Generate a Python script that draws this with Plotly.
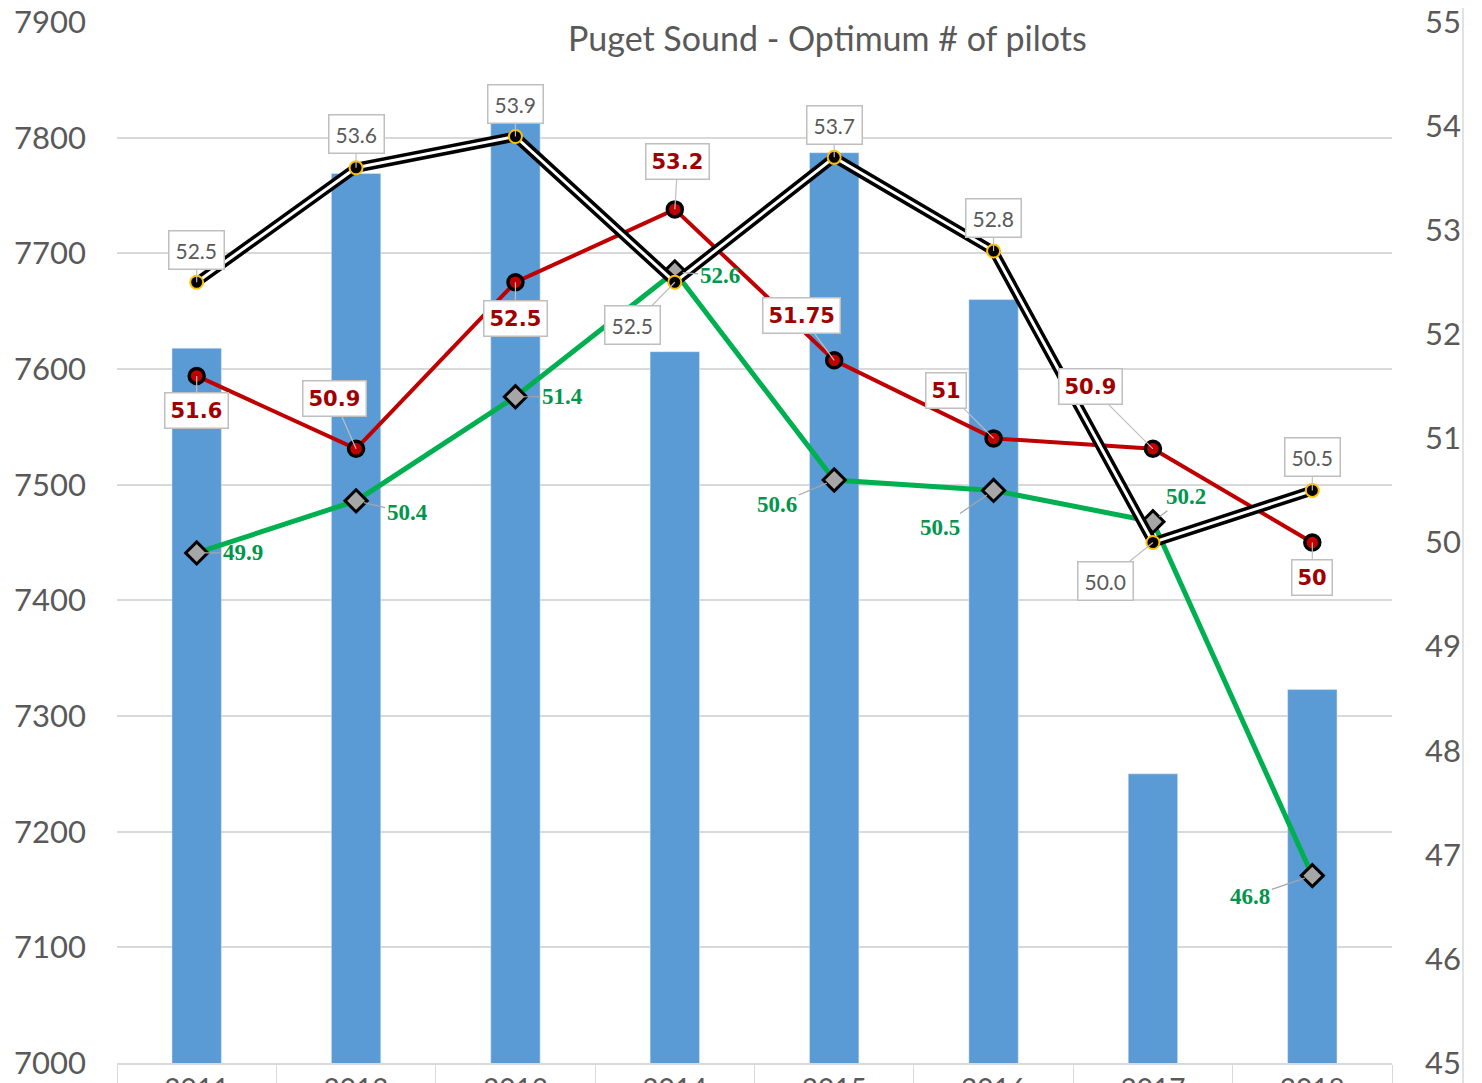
import plotly.graph_objects as go

years = ["2011", "2012", "2013", "2014", "2015", "2016", "2017", "2018"]
bar_values = [7618, 7769, 7817, 7615, 7787, 7660, 7250, 7323]
black_values = [52.5, 53.6, 53.9, 52.5, 53.7, 52.8, 50.0, 50.5]
black_labels = ["52.5", "53.6", "53.9", "52.5", "53.7", "52.8", "50.0", "50.5"]
red_values = [51.6, 50.9, 52.5, 53.2, 51.75, 51, 50.9, 50]
red_labels = ["51.6", "50.9", "52.5", "53.2", "51.75", "51", "50.9", "50"]
green_values = [49.9, 50.4, 51.4, 52.6, 50.6, 50.5, 50.2, 46.8]
green_labels = ["49.9", "50.4", "51.4", "52.6", "50.6", "50.5", "50.2", "46.8"]

# label offsets (pixels) from each point
black_off = [(0, -32), (0, -34), (0, -33), (-42, 43), (0, -32), (0, -33), (-47, 38), (0, -33)]
red_off = [(0, 35), (-22, -50), (0, 36), (3, -48), (-33, -45), (-48, -48), (-62, -62), (0, 35)]
green_off = [(46, 0), (51, 12), (47, 0), (45, 4), (-57, 24), (-54, 37), (33, -25), (-62, 21)]

# page body adds an 8px offset
W, H = 1482, 1130
L, R, T, B = 109, 98, 14, 75
PW, PH = W - L - R, H - T - B

fig = go.Figure()
fig.add_trace(go.Bar(x=years, y=bar_values, marker_color="#5b9bd5", yaxis="y"))
fig.add_trace(go.Scatter(x=years, y=green_values, yaxis="y2", mode="lines+markers",
                         line=dict(color="#00b050", width=5),
                         marker=dict(symbol="diamond", size=17, color="#a6a6a6",
                                     line=dict(color="black", width=3))))
fig.add_trace(go.Scatter(x=years, y=red_values, yaxis="y2", mode="lines+markers",
                         line=dict(color="#c00000", width=4),
                         marker=dict(symbol="circle", size=15, color="#c00000",
                                     line=dict(color="black", width=3.5))))
fig.add_trace(go.Scatter(x=years, y=black_values, yaxis="y2", mode="lines",
                         line=dict(color="black", width=10)))
fig.add_trace(go.Scatter(x=years, y=black_values, yaxis="y2", mode="lines+markers",
                         line=dict(color="white", width=3),
                         marker=dict(symbol="circle", size=13, color="black",
                                     line=dict(color="#ffc000", width=2))))

for i in range(len(years)):
    fig.add_annotation(x=i, y=black_values[i], yref="y2", text=black_labels[i],
                       ax=black_off[i][0], ay=black_off[i][1], showarrow=True,
                       arrowhead=0, arrowwidth=1.2, arrowcolor="#bfbfbf",
                       bgcolor="white", bordercolor="#bfbfbf", borderwidth=1.5, borderpad=6,
                       font=dict(family="Lato", size=21, color="#595959"))
    fig.add_annotation(x=i, y=red_values[i], yref="y2", text="<b>" + red_labels[i] + "</b>",
                       ax=red_off[i][0], ay=red_off[i][1], showarrow=True,
                       arrowhead=0, arrowwidth=1.2, arrowcolor="#bfbfbf",
                       bgcolor="white", bordercolor="#bfbfbf", borderwidth=1.5, borderpad=5,
                       font=dict(family="DejaVu Sans", size=21, color="#a00000"))
    fig.add_annotation(x=i, y=green_values[i], yref="y2", text="<b>" + green_labels[i] + "</b>",
                       ax=green_off[i][0], ay=green_off[i][1], showarrow=True,
                       arrowhead=0, arrowwidth=1.2, arrowcolor="#a6a6a6", standoff=8,
                       font=dict(family="Liberation Serif", size=23, color="#00964b"))

fig.add_annotation(text="Puget Sound - Optimum # of pilots", xref="paper", yref="paper",
                   x=(819 - L) / PW, y=1 - (30 - T) / PH, yanchor="middle", showarrow=False,
                   font=dict(family="Lato", size=34, color="#595959"))

# chart border (right edge)
fig.add_shape(type="line", xref="paper", yref="paper",
              x0=(1455 - L) / PW, x1=(1455 - L) / PW, y0=-1, y1=1 + T / PH,
              line=dict(color="#d9d9d9", width=1.5))

fig.update_layout(
    width=W, height=H, margin=dict(l=L, r=R, t=T, b=B, autoexpand=False),
    plot_bgcolor="white", paper_bgcolor="white", showlegend=False,
    bargap=0.69,
    xaxis=dict(type="category", range=[-0.5, 7.5], showgrid=False, showline=True,
               linecolor="#d9d9d9", linewidth=2, automargin=False, tickangle=0,
               ticks="outside", tickson="boundaries", ticklen=22, tickcolor="#d9d9d9",
               ticklabeloverflow="allow",
               tickfont=dict(family="Lato", size=28, color="#595959")),
    yaxis=dict(range=[7000, 7900], dtick=100, showgrid=True, gridcolor="#d9d9d9", gridwidth=1.5,
               zeroline=False, automargin=False, ticklabeloverflow="allow",
               tickfont=dict(family="Lato", size=31, color="#595959"), ticklabelstandoff=30),
    yaxis2=dict(range=[45, 55], dtick=1, overlaying="y", side="right", showgrid=False,
                zeroline=False, automargin=False, ticklabeloverflow="allow",
                tickfont=dict(family="Lato", size=31, color="#595959"), ticklabelstandoff=32),
)

fig.write_html("out.html")
